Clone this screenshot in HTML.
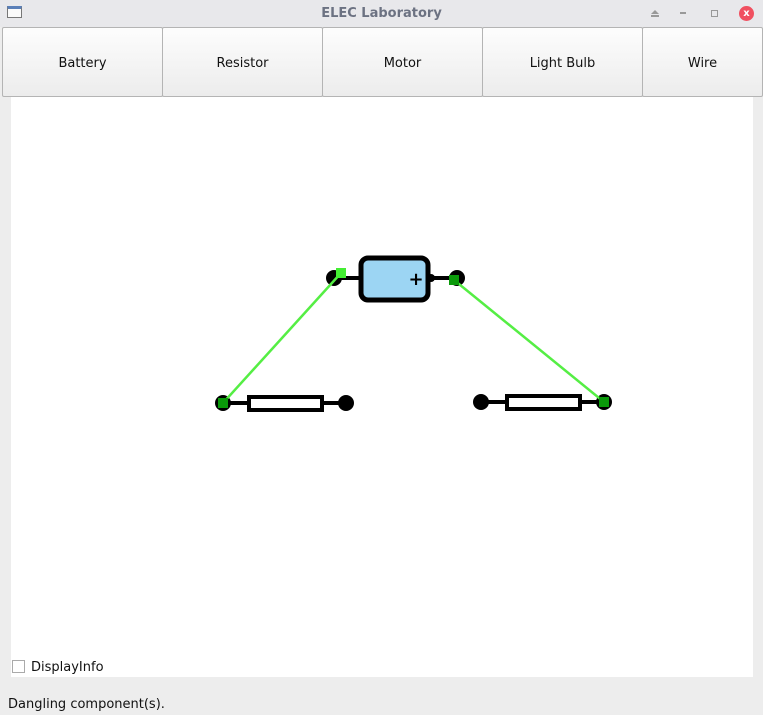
<!DOCTYPE html>
<html><head><style>
body{margin:0;width:763px;height:715px;background:#ededed;font-family:"DejaVu Sans","Liberation Sans",sans-serif;position:relative;overflow:hidden}
.title{position:absolute;left:0;top:0;width:763px;height:27px;background:#e8e8eb;}
.title span{position:absolute;left:0;width:763px;text-align:center;top:6px;font-size:13px;color:#6c7282;font-weight:bold}
.btn{position:absolute;top:27px;height:70px;border:1px solid #b4b4b4;border-radius:2px;background:linear-gradient(#fdfdfd,#ececec);font-size:13px;color:#111;text-align:center;line-height:71px;box-sizing:border-box}
.canvas{position:absolute;left:11px;top:97px;width:742px;height:580px;background:#fff}
</style></head><body>
<div class="title"><span>ELEC Laboratory</span>
<div style="position:absolute;left:7px;top:6px;width:15px;height:12px;border:1px solid #777;background:#fafafa;box-sizing:border-box;border-top:3px solid #5a7fb8"></div>
<div style="position:absolute;left:651px;top:10px;width:0;height:0;border-left:4px solid transparent;border-right:4px solid transparent;border-bottom:4px solid #999"></div>
<div style="position:absolute;left:651px;top:15px;width:8px;height:2px;background:#999"></div>
<div style="position:absolute;left:680px;top:12px;width:6px;height:2px;background:#999"></div>
<div style="position:absolute;left:711px;top:10px;width:5px;height:5px;border:1px solid #999"></div>
<div style="position:absolute;left:739px;top:6px;width:15px;height:15px;border-radius:50%;background:#f05060;color:#fff;font-size:10px;line-height:15px;text-align:center;font-weight:bold">x</div>
</div>
<div class="btn" style="left:2px;width:161px">Battery</div>
<div class="btn" style="left:162px;width:161px">Resistor</div>
<div class="btn" style="left:322px;width:161px">Motor</div>
<div class="btn" style="left:482px;width:161px">Light Bulb</div>
<div class="btn" style="left:642px;width:121px">Wire</div>
<div class="canvas"></div>
<svg style="position:absolute;left:0;top:0" width="763" height="715">
<line x1="334" y1="278" x2="360" y2="278" stroke="#000" stroke-width="4"/>
<line x1="430" y1="278" x2="457" y2="278" stroke="#000" stroke-width="4"/>
<circle cx="334" cy="278" r="8"/>
<circle cx="457" cy="278" r="8"/>
<circle cx="431" cy="278" r="4"/>
<rect x="361" y="258" width="67" height="42" rx="7" fill="#9cd5f3" stroke="#000" stroke-width="5"/>
<text x="416" y="285" font-size="18" font-weight="bold" text-anchor="middle" font-family="DejaVu Sans">+</text>
<line x1="223" y1="403" x2="346" y2="403" stroke="#000" stroke-width="4"/>
<rect x="249" y="397" width="73" height="13" fill="#fff" stroke="#000" stroke-width="4"/>
<circle cx="223" cy="403" r="8"/><circle cx="346" cy="403" r="8"/>
<line x1="481" y1="402" x2="604" y2="402" stroke="#000" stroke-width="4"/>
<rect x="507" y="396" width="73" height="13" fill="#fff" stroke="#000" stroke-width="4"/>
<circle cx="481" cy="402" r="8"/><circle cx="604" cy="402" r="8"/>
<line x1="341" y1="273" x2="223" y2="403" stroke="#55ee44" stroke-width="2.5"/>
<line x1="454" y1="280" x2="604" y2="402" stroke="#55ee44" stroke-width="2.5"/>
<rect x="336" y="268" width="10" height="10" fill="#44ee33"/>
<rect x="218" y="398" width="10" height="10" fill="#0a9a0a"/>
<rect x="449" y="275" width="10" height="10" fill="#0a9a0a"/>
<rect x="599" y="397" width="10" height="10" fill="#0a9a0a"/>
</svg>
<div style="position:absolute;left:12px;top:660px;width:13px;height:13px;border:1px solid #aaa;background:#fff;box-sizing:border-box"></div>
<div style="position:absolute;left:31px;top:660px;font-size:13px;color:#111">DisplayInfo</div>
<div style="position:absolute;left:8px;top:697px;font-size:13px;color:#111">Dangling component(s).</div>
</body></html>
